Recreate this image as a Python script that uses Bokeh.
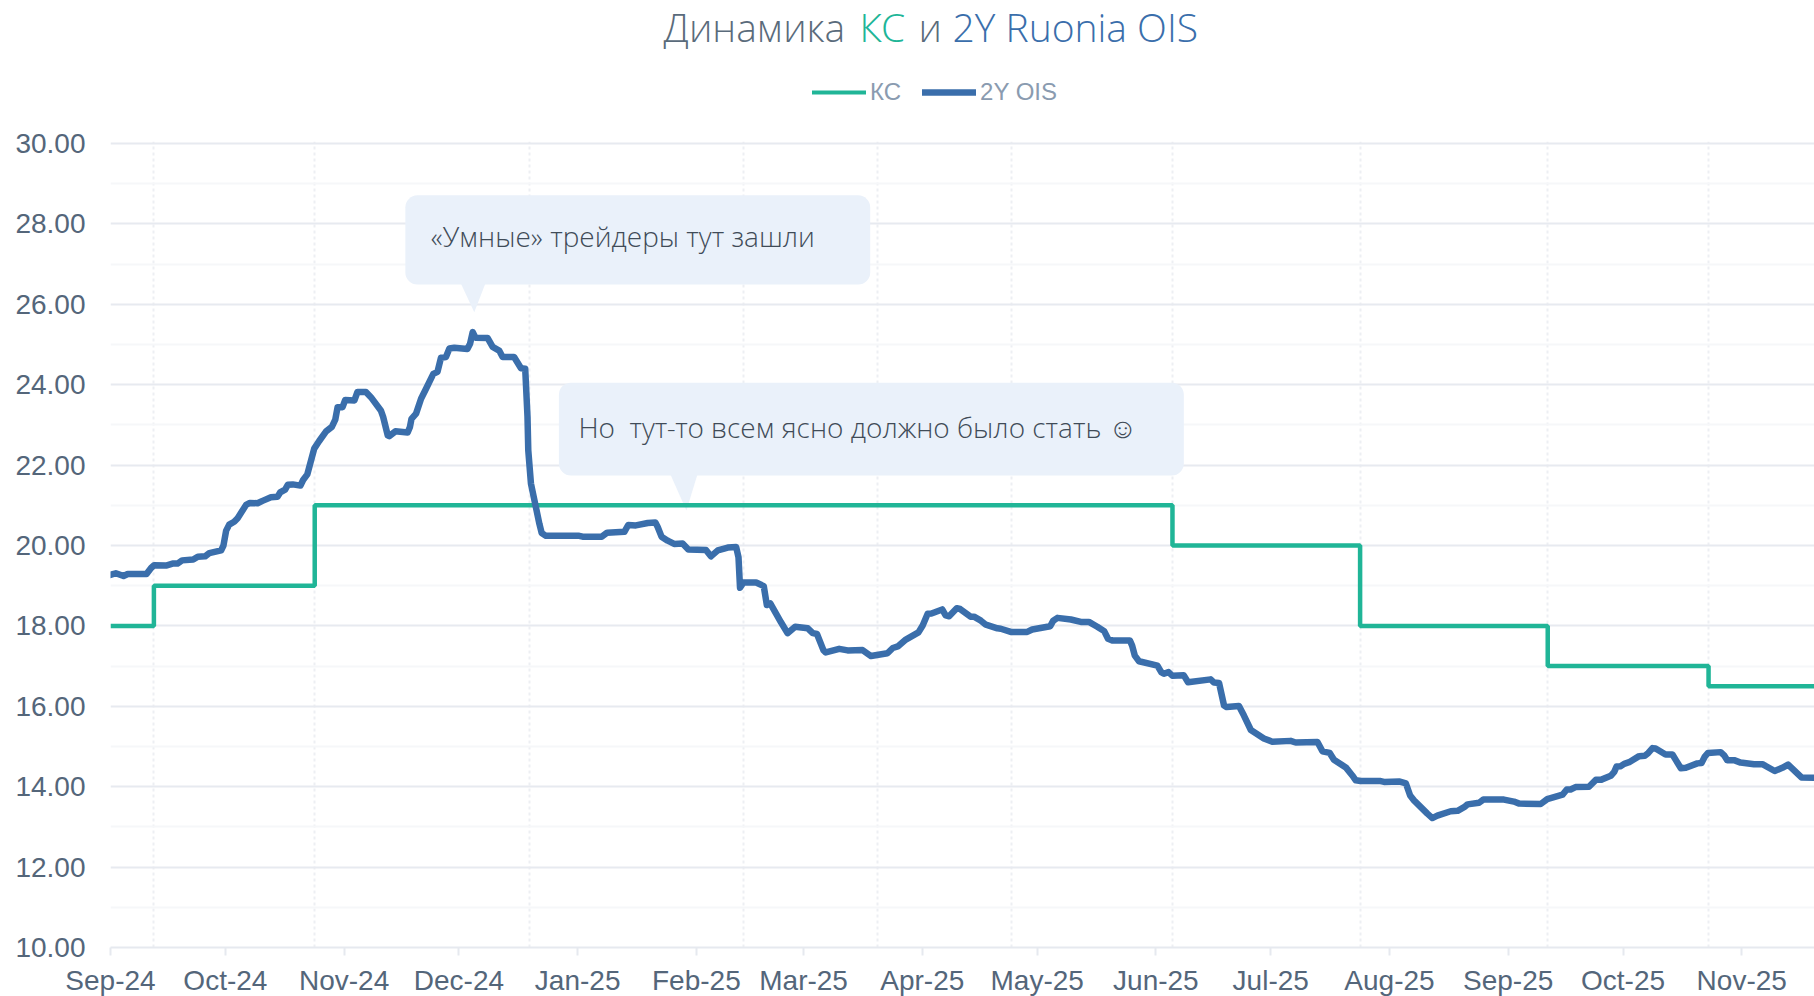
from datetime import datetime, timedelta
from bokeh.plotting import figure
from bokeh.layouts import column
from bokeh.embed import file_html
from bokeh.resources import INLINE
from bokeh.core.properties import value
from bokeh.models import (FixedTicker, NumeralTickFormatter, BoxAnnotation,
                          Legend, LegendItem, Range1d)

TITLE_PARTS = ["Динамика", "КС", "и", "2Y Ruonia OIS"]
LEGEND_NAMES = ["КС", "2Y OIS"]
NOTE_1 = "«Умные» трейдеры тут зашли"
NOTE_2 = "Но\u00a0 тут-то всем ясно должно было стать ☺"

start_date = "2024-09-02"
end_day = 445.0

tick_dates = ["2024-09-02", "2024-10-02", "2024-11-02", "2024-12-02", "2025-01-02", "2025-02-02",
              "2025-03-02", "2025-04-02", "2025-05-02", "2025-06-02", "2025-07-02", "2025-08-02",
              "2025-09-02", "2025-10-02", "2025-11-02"]
tick_labels = ["Sep-24", "Oct-24", "Nov-24", "Dec-24", "Jan-25", "Feb-25", "Mar-25", "Apr-25",
               "May-25", "Jun-25", "Jul-25", "Aug-25", "Sep-25", "Oct-25", "Nov-25"]
y_major = [10, 12, 14, 16, 18, 20, 22, 24, 26, 28, 30]
y_minor = [11, 13, 15, 17, 19, 21, 23, 25, 27, 29]

meeting_dates = ["2024-09-13", "2024-10-25", "2024-12-20", "2025-02-14", "2025-03-21", "2025-04-25",
                 "2025-06-06", "2025-07-25", "2025-09-12", "2025-10-24"]
kc_before = 18.0
kc_values = [19.0, 21.0, 21.0, 21.0, 21.0, 21.0, 20.0, 18.0, 17.0, 16.5]

ois_days = [0, 1.4, 3.4, 4.5, 6.7, 9.4, 10.6, 11.4, 14.5, 16.2, 17.5, 18.7, 21.6, 22.8, 24.7, 25.8, 28.9,
            29.5, 30.2, 31.0, 32.3, 33.2, 35.4, 36.4, 38.4, 39.7, 41.9, 43.6, 44.3, 45.6, 46.3, 47.6,
            49.6, 50.3, 51.4, 53.2, 54.5, 56.3, 57.8, 58.7, 59.3, 60.6, 61.3, 63.7, 64.5, 66.7, 68.0,
            70.6, 71.2, 72.4, 72.8, 74.4, 77.6, 78.2, 78.6, 79.8, 81.1, 82.4, 84.3, 85.4, 86.3, 87.6,
            88.5, 89.8, 93.2, 93.9, 94.6, 95.3, 98.5, 99.8, 101.5, 102.4, 105.4, 107.2, 108.3,
            108.9, 109.1, 109.8, 111.1, 112.0, 112.6, 113.7, 122.4, 123.3, 128.3, 129.7, 134.2, 135.2,
            137.2, 140.3, 142.3, 142.9, 143.9, 145.5, 147.2, 149.4, 150.9, 155.5, 156.8, 158.6, 161.2,
            163.4, 164.0, 164.4, 165.3, 168.6, 170.6, 171.4, 172.3, 175.1, 176.8, 178.8, 182.1, 183.4,
            184.5, 186.2, 186.8, 190.3, 192.5, 196.4, 198.6, 202.9, 204.3, 205.6, 207.7, 211.0, 212.1,
            213.4, 214.4, 217.2, 218.1, 219.0, 221.0, 221.9, 224.6, 225.5, 227.3, 228.6, 231.6, 232.5,
            235.1, 239.4, 240.7, 245.4, 246.2, 247.3, 250.8, 253.4, 255.5, 257.7, 259.5, 260.5, 261.6,
            266.2, 266.8, 267.5, 268.6, 273.4, 274.4, 275.1, 276.3, 277.3, 280.3, 281.4, 287.3, 288.2,
            289.5, 290.8, 291.5, 294.7, 296.0, 297.8, 301.2, 303.4, 308.2, 309.5, 315.2, 316.5, 318.4,
            319.5, 322.6, 324.3, 325.2, 326.5, 331.7, 332.6, 336.5, 338.3, 339.4, 340.4, 343.9, 345.2,
            346.5, 350.0, 351.8, 353.5, 354.4, 357.4, 358.5, 363.9, 366.5, 367.9, 373.5, 375.2, 379.2,
            380.3, 381.3, 382.6, 386.1, 387.9, 389.2, 391.8, 392.7, 393.3, 394.4, 395.3, 396.6, 399.2,
            400.7, 401.6, 402.7, 403.5, 406.1, 407.9, 408.8, 410.1, 411.4, 414.4, 415.5, 416.3, 417.2,
            420.5, 421.4, 422.2, 424.0, 425.7, 429.2, 431.4, 434.6, 436.6, 438.1, 441.6, 445.0]
ois_values = [19.27, 19.31, 19.24, 19.29, 19.29, 19.29, 19.44, 19.51, 19.50, 19.55, 19.55, 19.63, 19.65,
              19.72, 19.73, 19.81, 19.88, 20.00, 20.37, 20.52, 20.59, 20.68, 21.01, 21.06, 21.05, 21.11,
              21.20, 21.21, 21.32, 21.39, 21.51, 21.52, 21.49, 21.63, 21.77, 22.41, 22.60, 22.84, 22.95,
              23.13, 23.44, 23.44, 23.62, 23.61, 23.82, 23.82, 23.69, 23.36, 23.20, 22.74, 22.72, 22.84,
              22.81, 22.95, 23.15, 23.28, 23.65, 23.90, 24.27, 24.32, 24.67, 24.69, 24.90, 24.92, 24.89,
              25.02, 25.31, 25.17, 25.16, 24.94, 24.85, 24.69, 24.69, 24.41, 24.40,
              23.2, 22.37, 21.54, 20.95, 20.54, 20.31, 20.24, 20.24, 20.22, 20.22, 20.32, 20.34, 20.51,
              20.50, 20.56, 20.57, 20.46, 20.22, 20.12, 20.04, 20.05, 19.90, 19.89, 19.73, 19.88, 19.95,
              19.96, 19.71, 18.95, 19.08, 19.08, 18.99, 18.52, 18.56, 18.09, 17.82, 17.98, 17.94, 17.82,
              17.80, 17.39, 17.34, 17.43, 17.39, 17.40, 17.25, 17.32, 17.45, 17.49, 17.66, 17.84, 18.01,
              18.30, 18.31, 18.41, 18.26, 18.24, 18.44, 18.42, 18.23, 18.23, 18.13, 18.03, 17.94, 17.93,
              17.85, 17.85, 17.91, 17.99, 18.13, 18.20, 18.16, 18.10, 18.10, 17.98, 17.87, 17.68, 17.64,
              17.64, 17.51, 17.26, 17.12, 17.01, 16.85, 16.81, 16.85, 16.76, 16.77, 16.60, 16.67, 16.59,
              16.58, 16.02, 15.98, 16.01, 15.77, 15.41, 15.20, 15.12, 15.14, 15.10, 15.11, 14.88, 14.84,
              14.67, 14.48, 14.28, 14.16, 14.14, 14.14, 14.12, 14.13, 14.08, 13.78, 13.66, 13.33, 13.22,
              13.28, 13.39, 13.40, 13.49, 13.56, 13.60, 13.68, 13.68, 13.63, 13.58, 13.57, 13.69, 13.80,
              13.93, 13.93, 13.99, 14.00, 14.17, 14.17, 14.27, 14.37, 14.50, 14.51, 14.57, 14.61, 14.76,
              14.77, 14.84, 14.96, 14.95, 14.80, 14.80, 14.66, 14.46, 14.47, 14.58, 14.59, 14.74, 14.84,
              14.86, 14.78, 14.66, 14.66, 14.60, 14.56, 14.56, 14.39, 14.47, 14.55, 14.23, 14.22]

t0 = datetime.fromisoformat(start_date)
def d(days):
    return t0 + timedelta(days=days)
def ms(dt):
    return (dt - datetime(1970, 1, 1)).total_seconds() * 1000.0
def parse(s):
    return datetime.fromisoformat(s)

STEP_SHIFT = timedelta(hours=8)
kc_x = [t0] + [parse(s) + STEP_SHIFT for s in meeting_dates] + [d(end_day)]
kc_y = [kc_before] + kc_values + [kc_values[-1]]
ois_x = [d(v) for v in ois_days]

AXIS_FONT = "Liberation Sans"
LIGHT_FONT = "Open Sans Light"
GREEN, BLUE = "#20B597", "#3A6EAB"
GRAY_TEXT, AXIS_TEXT = "#5A6B7B", "#54667A"

p = figure(width=1814, height=885, frame_width=1704, frame_height=806, x_axis_type="datetime",
           x_range=Range1d(d(0), d(end_day)), y_range=Range1d(10, 30.05),
           min_border_left=110, min_border_right=0, min_border_top=30, min_border_bottom=49,
           output_backend="svg", toolbar_location=None, outline_line_color=None,
           background_fill_color="white", border_fill_color="white")

# axes
p.xaxis.ticker = FixedTicker(ticks=[ms(parse(s)) for s in tick_dates])
p.xaxis.major_label_overrides = {ms(parse(s)): l for s, l in zip(tick_dates, tick_labels)}
p.xaxis.major_tick_in = 0
p.xaxis.major_tick_out = 8
p.xaxis.minor_tick_line_color = None
p.xaxis.major_tick_line_color = "#E6E9EF"
p.xaxis.major_tick_line_width = 2
p.xaxis.axis_line_color = "#E6E9EF"
p.xaxis.axis_line_width = 2
p.xaxis.major_label_standoff = 9
p.xaxis.major_label_text_font = AXIS_FONT
p.xaxis.major_label_text_font_size = "28px"
p.xaxis.major_label_text_color = AXIS_TEXT

p.yaxis.ticker = FixedTicker(ticks=y_major, minor_ticks=y_minor)
p.yaxis.formatter = NumeralTickFormatter(format="0.00")
p.yaxis.major_tick_line_color = None
p.yaxis.minor_tick_line_color = None
p.yaxis.axis_line_color = None
p.yaxis.major_label_standoff = 19
p.yaxis.major_label_text_font = AXIS_FONT
p.yaxis.major_label_text_font_size = "28px"
p.yaxis.major_label_text_color = AXIS_TEXT

# grids
p.xgrid.ticker = FixedTicker(ticks=[ms(parse(s) + STEP_SHIFT) for s in meeting_dates])
p.xgrid.grid_line_color = "#EDEFF3"
p.xgrid.grid_line_width = 2
p.xgrid.grid_line_dash = "3 3"
p.ygrid.ticker = FixedTicker(ticks=y_major, minor_ticks=y_minor)
p.ygrid.grid_line_color = "#E7EAF0"
p.ygrid.grid_line_width = 2
p.ygrid.minor_grid_line_color = "#F6F7F9"
p.ygrid.minor_grid_line_width = 2

# callouts (positions in days from the start / rate units)
BUBBLE = "#EAF1FA"
p.add_layout(BoxAnnotation(left=d(77.0), right=d(198.4), top=28.71, bottom=26.49, fill_color=BUBBLE,
                           fill_alpha=1, line_color=None, border_radius=12, level="underlay"))
p.add_layout(BoxAnnotation(left=d(117.1), right=d(280.3), top=24.05, bottom=21.74, fill_color=BUBBLE,
                           fill_alpha=1, line_color=None, border_radius=12, level="underlay"))
p.patch([d(91.5), d(97.9), d(95.0)], [26.52, 26.52, 25.80], fill_color=BUBBLE, line_color=None)
p.patch([d(146.2), d(153.3), d(150.4)], [21.77, 21.77, 20.87], fill_color=BUBBLE, line_color=None)

p.step(kc_x, kc_y, mode="after", line_color=GREEN, line_width=4.5)
p.line(ois_x, ois_values, line_color=BLUE, line_width=6.5, line_join="round", line_cap="round")

p.text([d(83.6)], [27.71], text=[NOTE_1], text_font=value(LIGHT_FONT), text_font_size="28px",
       text_color="#404B57", text_baseline="alphabetic", text_align="left")
p.text([d(122.2)], [22.95], text=[NOTE_2], text_font=value(LIGHT_FONT), text_font_size="28px",
       text_color="#404B57", text_baseline="alphabetic", text_align="left")

# header strip: title pieces and legend, in page pixels (its frame lines up with the chart's)
h = figure(width=1814, height=111, x_range=Range1d(110, 1814), y_range=Range1d(111, 0),
           min_border=0, min_border_left=0, min_border_right=0, min_border_top=0, min_border_bottom=0,
           output_backend="svg", toolbar_location=None, outline_line_color=None,
           background_fill_color="white", border_fill_color="white")
h.axis.visible = False
h.grid.visible = False

title_x = [663, 859, 918, 952]
title_c = [GRAY_TEXT, GREEN, GRAY_TEXT, BLUE]
for t, x, c in zip(TITLE_PARTS, title_x, title_c):
    h.text([x], [26], text=[t], text_font=value(LIGHT_FONT), text_font_size="39px", text_color=c,
           text_baseline="alphabetic", text_align="left")

kc_key = h.line([float("nan")], [float("nan")], line_color=GREEN, line_width=4, line_cap="round")
ois_key = h.line([float("nan")], [float("nan")], line_color=BLUE, line_width=6.5, line_cap="round")
legend = Legend(items=[LegendItem(label=LEGEND_NAMES[0], renderers=[kc_key]),
                       LegendItem(label=LEGEND_NAMES[1], renderers=[ois_key])],
                orientation="horizontal", location=(702, 5), glyph_width=54, glyph_height=20,
                label_standoff=4, spacing=21, padding=0, margin=0,
                border_line_color=None, background_fill_alpha=0,
                label_text_font=AXIS_FONT, label_text_font_size="24px", label_text_color="#8A9BB0")
h.add_layout(legend, "center")

page = column(h, p, spacing=0)
open("out.html", "w").write(file_html(page, INLINE))
